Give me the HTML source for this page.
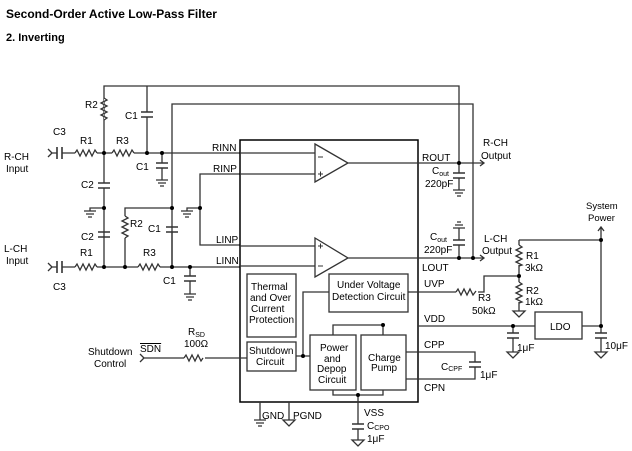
<!DOCTYPE html>
<html><head><meta charset="utf-8"><style>
html,body{margin:0;padding:0;background:#fff;width:632px;height:451px;overflow:hidden}
svg{display:block}
text{font-family:"Liberation Sans",Arial,sans-serif;font-size:10px;fill:#000}
.b{font-weight:bold}
</style></head><body>
<svg width="632" height="451" viewBox="0 0 632 451" xmlns="http://www.w3.org/2000/svg">
<text x="6" y="18" class="b" style="font-size:12px">Second-Order Active Low-Pass Filter</text>
<text x="6" y="41" class="b" style="font-size:11px">2. Inverting</text>
<g stroke="#333" stroke-width="1.3" fill="none">
<!-- top feedback wires -->
<path d="M104,153 V86 H459 V163"/>
<path d="M172,267 V104 H473 V258"/>
<!-- R-CH input line -->
<path d="M48,149 l4,4 l-4,4 M52,153 H57 M62,153 H75 M97,153 H112 M134,153 H240"/>
<path d="M57,147 V159 M62,147 V159" stroke-width="1.6"/>
<path d="M75,153 l2,-3 l3,6 l3,-6 l3,6 l3,-6 l3,6 l3,-6 l2,3"/>
<path d="M112,153 l2,-3 l3,6 l3,-6 l3,6 l3,-6 l3,6 l3,-6 l2,3"/>
<!-- R2 vertical -->
<path d="M104,98 l3,2 l-6,3 l6,3 l-6,3 l6,3 l-6,3 l6,3 l-3,2" fill="#fff"/>
<!-- C1 top -->
<path d="M147,86 V112 M147,117 V153"/>
<path d="M141,112 H153 M141,117 H153" stroke-width="1.6"/>
<!-- C1 R-ch to ground -->
<path d="M162,153 V163 M162,168 V180 M156,180 H168 M158,183 H166 M160,186 H164"/>
<path d="M156,163 H168 M156,168 H168" stroke-width="1.6"/>
<!-- C2 upper -->
<path d="M104,153 V183 M104,188 V267"/>
<path d="M98,183 H110 M98,188 H110 M98,232 H110 M98,237 H110" stroke-width="1.6"/>
<path d="M104,208 H90 V211 M84,211 H96 M86,214 H94 M88,217 H92"/>
<!-- RINP/LINP -->
<path d="M240,174 H200 V245 H240"/>
<path d="M200,208 H187 V211 M181,211 H193 M183,214 H191 M185,217 H189"/>
<!-- R2 lower -->
<path d="M172,208 H125 V216 M125,238 V267"/>
<path d="M125,216 l3,2 l-6,3 l6,3 l-6,3 l6,3 l-6,3 l6,3 l-3,2"/>
<!-- C1 lower between 208 and LINN -->
<path d="M172,208 V227" stroke="#fff" stroke-width="3"/>
<path d="M172,208 V227 M172,232 V267"/>
<path d="M166,227 H178 M166,232 H178" stroke-width="1.6"/>
<!-- L-CH input -->
<path d="M48,263 l4,4 l-4,4 M52,267 H57 M62,267 H75 M97,267 H138 M160,267 H240"/>
<path d="M57,261 V273 M62,261 V273" stroke-width="1.6"/>
<path d="M75,267 l2,-3 l3,6 l3,-6 l3,6 l3,-6 l3,6 l3,-6 l2,3"/>
<path d="M138,267 l2,-3 l3,6 l3,-6 l3,6 l3,-6 l3,6 l3,-6 l2,3"/>
<path d="M190,267 V276 M190,281 V294 M184,294 H196 M186,297 H194 M188,300 H192"/>
<path d="M184,276 H196 M184,281 H196" stroke-width="1.6"/>
<!-- chip -->
<rect x="240" y="140" width="178" height="262" stroke="#000" stroke-width="1.5"/>
<!-- opamps -->
<path d="M315,144 L348,163 L315,182 Z M240,153 H315 M240,174 H315 M348,163 H483 M480,160 l4,3 l-4,3"/>
<path d="M315,238 L348,258 L315,277 Z M240,246 H315 M240,266 H315 M348,258 H483 M480,255 l4,3 l-4,3"/>
<path d="M318,157 H323 M318,174 H323 M320.5,171.5 V176.5 M318,246 H323 M320.5,243.5 V248.5 M318,266 H323" stroke-width="1"/>
<!-- Cout -->
<path d="M459,163 V173 M459,178 V190 M453,190 H465 M455,193 H463 M457,196 H461"/>
<path d="M453,173 H465 M453,178 H465" stroke-width="1.6"/>
<path d="M459,258 V245 M459,240 V228 M453,228 H465 M455,225 H463 M457,222 H461"/>
<path d="M453,240 H465 M453,245 H465" stroke-width="1.6"/>
<!-- system power -->
<path d="M601,228 V326 M598,231 l3,-4 l3,4 M519,240 H601 M519,240 V245 M519,265 V282 M519,302 V311 M513,311 H525 L519,317 Z"/>
<path d="M519,245 l3,2 l-6,3 l6,3 l-6,3 l6,3 l-6,3 l6,3 l-3,1"/>
<path d="M519,282 l3,2 l-6,3 l6,3 l-6,3 l6,3 l-6,3 l6,3 l-3,1"/>
<path d="M519,276 H484 V292 H478 M456,292 H418"/>
<path d="M456,292 l2,-3 l3,6 l3,-6 l3,6 l3,-6 l3,6 l3,-4"/>
<!-- VDD / LDO -->
<path d="M418,326 H535 M582,326 H601 M513,326 V333 M513,338 V352 M507,352 H519 L513,358 Z M601,326 V333 M601,338 V352 M595,352 H607 L601,358 Z"/>
<path d="M507,333 H519 M507,338 H519 M595,333 H607 M595,338 H607" stroke-width="1.6"/>
<rect x="535" y="312" width="47" height="27"/>
<!-- internal blocks -->
<rect x="247" y="274" width="49" height="63"/>
<rect x="329" y="274" width="79" height="38"/>
<rect x="247" y="342" width="49" height="29"/>
<rect x="310" y="335" width="46" height="55"/>
<rect x="361" y="335" width="45" height="55"/>
<path d="M329,292 H303 V356 M296,356 H310 M333,335 V325 H383 V335 M333,390 V395 H383 V390 M358,395 V424 M358,429 V440 M352,440 H364 L358,446 Z"/>
<path d="M352,424 H364 M352,429 H364" stroke-width="1.6"/>
<path d="M408,292 H418"/>
<!-- CPP / CPN -->
<path d="M406,352 H475 V362 M475,367 V379 H406"/>
<path d="M469,362 H481 M469,367 H481" stroke-width="1.6"/>
<!-- GND/PGND -->
<path d="M260,402 V420 M254,420 H266 M256,423 H264 M258,426 H262 M289,402 V420 M283,420 H295 L289,426 Z"/>
<!-- shutdown -->
<path d="M140,354 l4,4 l-4,4 M144,358 H184 M205,358 H247"/>
<path d="M184,358 l2,-3 l3,6 l3,-6 l3,6 l3,-6 l3,6 l2,-3"/>
</g>
<g fill="#000">
<circle cx="104" cy="153" r="2"/><circle cx="147" cy="153" r="2"/><circle cx="162" cy="153" r="2"/>
<circle cx="104" cy="208" r="2"/><circle cx="172" cy="208" r="2"/><circle cx="200" cy="208" r="2"/>
<circle cx="104" cy="267" r="2"/><circle cx="125" cy="267" r="2"/><circle cx="172" cy="267" r="2"/><circle cx="190" cy="267" r="2"/>
<circle cx="459" cy="163" r="2"/><circle cx="459" cy="258" r="2"/><circle cx="473" cy="258" r="2"/>
<circle cx="601" cy="240" r="2"/><circle cx="519" cy="276" r="2"/><circle cx="513" cy="326" r="2"/><circle cx="601" cy="326" r="2"/>
<circle cx="303" cy="356" r="2"/><circle cx="383" cy="325" r="2"/><circle cx="358" cy="395" r="2"/>
</g>
<text x="85" y="108">R2</text>
<text x="125" y="119">C1</text>
<text x="53" y="135">C3</text>
<text x="80" y="144">R1</text>
<text x="116" y="144">R3</text>
<text x="4" y="160">R-CH</text><text x="6" y="172">Input</text>
<text x="136" y="170">C1</text>
<text x="81" y="188">C2</text>
<text x="81" y="240">C2</text>
<text x="130" y="227">R2</text>
<text x="148" y="232">C1</text>
<text x="4" y="252">L-CH</text><text x="6" y="264">Input</text>
<text x="80" y="256">R1</text>
<text x="143" y="256">R3</text>
<text x="53" y="290">C3</text>
<text x="163" y="284">C1</text>
<text x="212" y="151">RINN</text>
<text x="213" y="172">RINP</text>
<text x="216" y="243">LINP</text>
<text x="216" y="264">LINN</text>
<text x="422" y="161">ROUT</text>
<text x="422" y="271">LOUT</text>
<text x="432" y="174">C<tspan style="font-size:7px" dy="2">out</tspan></text>
<text x="425" y="187">220pF</text>
<text x="430" y="240">C<tspan style="font-size:7px" dy="2">out</tspan></text>
<text x="424" y="253">220pF</text>
<text x="483" y="146">R-CH</text><text x="481" y="159">Output</text>
<text x="484" y="242">L-CH</text><text x="482" y="254">Output</text>
<text x="586" y="209" style="font-size:9.5px">System</text><text x="588" y="221" style="font-size:9.5px">Power</text>
<text x="526" y="259">R1</text><text x="525" y="271">3kΩ</text>
<text x="526" y="294">R2</text><text x="525" y="305">1kΩ</text>
<text x="478" y="301">R3</text><text x="472" y="314">50kΩ</text>
<text x="424" y="287">UVP</text>
<text x="424" y="322">VDD</text>
<text x="424" y="348">CPP</text>
<text x="424" y="391">CPN</text>
<text x="441" y="370">C<tspan style="font-size:7px" dy="1">CPF</tspan></text>
<text x="480" y="378">1μF</text>
<text x="550" y="330">LDO</text>
<text x="517" y="351">1μF</text>
<text x="605" y="349">10μF</text>
<text x="251" y="290">Thermal</text><text x="250" y="301">and Over</text><text x="251" y="312">Current</text><text x="249" y="323">Protection</text>
<text x="337" y="288">Under Voltage</text><text x="332" y="300">Detection Circuit</text>
<text x="249" y="354">Shutdown</text><text x="256" y="365">Circuit</text>
<text x="320" y="351">Power</text><text x="324" y="362">and</text><text x="317" y="372">Depop</text><text x="318" y="383">Circuit</text>
<text x="368" y="361">Charge</text><text x="371" y="371">Pump</text>
<text x="262" y="419">GND</text>
<text x="293" y="419">PGND</text>
<text x="364" y="416">VSS</text>
<text x="367" y="429">C<tspan style="font-size:7px" dy="1">CPO</tspan></text>
<text x="367" y="442">1μF</text>
<text x="88" y="355">Shutdown</text><text x="94" y="367">Control</text>
<text x="140" y="352" style="text-decoration:overline">SDN</text>
<text x="188" y="335">R<tspan style="font-size:7px" dy="2">SD</tspan></text>
<text x="184" y="347">100Ω</text>
</svg>
</body></html>
